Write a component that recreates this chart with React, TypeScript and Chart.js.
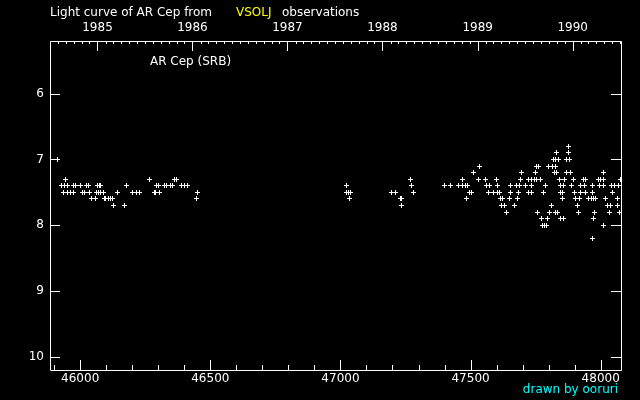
import React, { useEffect, useRef } from "react";
import { Chart, registerables } from "chart.js";

Chart.register(...registerables);

// Axis ranges (JD - 2400000, visual magnitude)
const X_MIN = 45884;
const X_MAX = 48078;
const Y_MIN = 5.2;
const Y_MAX = 10.2;
const xTickValues = [46000, 46500, 47000, 47500, 48000];
const yTickValues = [6, 7, 8, 9, 10];
const yearLabels = ["1985", "1986", "1987", "1988", "1989", "1990"];

// Observations: dates (JD - 2400000) grouped by estimated magnitude
const magLevels = [6.8, 6.9, 7.0, 7.1, 7.2, 7.3, 7.4, 7.5, 7.6, 7.7, 7.8, 7.9, 8.0, 8.2];
const jdAt68 = [47876];
const jdAt69 = [47830, 47876];
const jdAt70 = [45911, 47817, 47827, 47837, 47870, 47880];
const jdAt71 = [47534, 47755, 47761, 47801, 47815, 47825];
const jdAt72 = [47511, 47696, 47750, 47823, 47832, 47869, 47884, 48011];
const jdAt73 = [45942, 46265, 46361, 46369, 47269, 47470, 47532, 47557, 47600, 47693, 47723, 47733, 47746, 47753, 47769, 47842, 47860, 47896, 47933, 47940, 47991, 48001, 48011, 48077];
const jdAt74 = [45927, 45938, 45950, 45973, 45983, 46000, 46024, 46032, 46065, 46075, 46079, 46177, 46292, 46300, 46324, 46332, 46348, 46356, 46390, 46401, 46413, 47023, 47273, 47400, 47423, 47453, 47469, 47479, 47490, 47561, 47572, 47602, 47652, 47677, 47687, 47711, 47736, 47786, 47845, 47857, 47888, 47923, 47936, 47969, 47996, 48010, 48043, 48053, 48067];
const jdAt75 = [45934, 45953, 45964, 45974, 46007, 46016, 46034, 46063, 46069, 46079, 46088, 46142, 46200, 46216, 46227, 46284, 46288, 46303, 46450, 47023, 47030, 47038, 47198, 47210, 47280, 47496, 47503, 47569, 47588, 47605, 47611, 47652, 47686, 47723, 47733, 47779, 47846, 47853, 47900, 47924, 47942, 47970, 48046];
const jdAt76 = [46042, 46057, 46092, 46098, 46107, 46116, 46124, 46446, 47034, 47230, 47234, 47484, 47614, 47623, 47650, 47682, 47853, 47903, 47919, 47952, 47963, 47973, 47980, 48018, 48065];
const jdAt77 = [46127, 46169, 47234, 47620, 47629, 47669, 47811, 47911, 48026, 48036, 48063];
const jdAt78 = [47637, 47757, 47805, 47827, 47834, 47915, 47977, 48032, 48073];
const jdAt79 = [47773, 47796, 47847, 47856, 47973];
const jdAt80 = [47777, 47784, 47792, 48011];
const jdAt82 = [47969];
const jdLevels = [jdAt68, jdAt69, jdAt70, jdAt71, jdAt72, jdAt73, jdAt74, jdAt75, jdAt76, jdAt77, jdAt78, jdAt79, jdAt80, jdAt82];

const FONT = "DejaVu Sans";

// reduced JD of a calendar date (UTC midnight)
const reducedJD = (y: number, m: number) => Date.UTC(y, m, 1) / 86400000 + 40587.5;
const yearJD = yearLabels.map((y) => reducedJD(Number(y), 0));

function makeCrossSprite(): HTMLCanvasElement {
  const c = document.createElement("canvas");
  c.width = 5;
  c.height = 5;
  const g = c.getContext("2d")!;
  g.fillStyle = "#ffffff";
  g.fillRect(0, 2, 5, 1);
  g.fillRect(2, 0, 1, 5);
  return c;
}

const framePlugin = {
  id: "frameAndText",
  beforeDatasetsDraw(chart: any) {
    chart.ctx.save();
    chart.ctx.imageSmoothingEnabled = false;
  },
  afterDatasetsDraw(chart: any) {
    const { ctx, chartArea } = chart;
    ctx.restore();
    const xs = chart.scales.x;
    const ys = chart.scales.y;
    const l = Math.round(chartArea.left);
    const r = Math.round(chartArea.right);
    const t = Math.round(chartArea.top);
    const b = Math.round(chartArea.bottom);
    ctx.save();
    ctx.strokeStyle = "#ffffff";
    ctx.lineWidth = 1;
    ctx.beginPath();
    ctx.rect(l + 0.5, t + 0.5, r - l, b - t);
    // bottom ticks
    for (let v = 45900; v <= 48000; v += 100) {
      const px = Math.round(xs.getPixelForValue(v)) + 0.5;
      const len = v % 500 === 0 ? 10 : 5;
      ctx.moveTo(px, b);
      ctx.lineTo(px, b - len);
    }
    // top ticks (months / years)
    for (let y = 1984; y <= 1990; y++) {
      for (let m = 0; m < 12; m++) {
        const jd = reducedJD(y, m);
        if (jd <= X_MIN || jd >= X_MAX) continue;
        const px = Math.round(xs.getPixelForValue(jd)) + 0.5;
        const len = m === 0 ? 10 : 3;
        ctx.moveTo(px, t);
        ctx.lineTo(px, t + len);
      }
    }
    // left/right ticks
    yTickValues.forEach((v) => {
      const py = Math.round(ys.getPixelForValue(v)) + 0.5;
      ctx.moveTo(l, py);
      ctx.lineTo(l + 10, py);
      ctx.moveTo(r, py);
      ctx.lineTo(r - 10, py);
    });
    ctx.stroke();

    ctx.font = `12px "${FONT}"`;
    ctx.textBaseline = "alphabetic";
    ctx.textAlign = "left";
    ctx.fillStyle = "#ffffff";
    ctx.fillText("Light curve of AR Cep from", 50, 16);
    ctx.fillStyle = "#ffff00";
    ctx.fillText("VSOLJ", 236, 16);
    ctx.fillStyle = "#ffffff";
    ctx.fillText("observations", 282, 16);
    ctx.fillText("AR Cep (SRB)", 150, 65);
    ctx.fillStyle = "#00ffff";
    ctx.textAlign = "right";
    ctx.fillText("drawn by ooruri", 618, 393);
    ctx.restore();
  },
};

export default function App() {
  const ref = useRef<HTMLCanvasElement | null>(null);

  useEffect(() => {
    if (!ref.current) return;
    const points = magLevels.flatMap((m, i) => jdLevels[i].map((x) => ({ x, y: m })));
    const tickFont = { family: FONT, size: 12 };
    const sprite = makeCrossSprite();
    const chart = new Chart(ref.current, {
      type: "scatter",
      data: {
        datasets: [
          {
            data: points,
            pointStyle: sprite,
            pointRadius: 2.5,
            pointHoverRadius: 2.5,
            borderColor: "#ffffff",
            backgroundColor: "#ffffff",
            borderWidth: 1,
          },
        ],
      },
      options: {
        animation: false,
        responsive: false,
        devicePixelRatio: 1,
        events: [],
        layout: { padding: { left: 0, right: 19, top: 0, bottom: 0 } },
        plugins: { legend: { display: false }, tooltip: { enabled: false } },
        scales: {
          x: {
            type: "linear",
            position: "bottom",
            min: X_MIN,
            max: X_MAX,
            afterBuildTicks: (s: any) => {
              s.ticks = xTickValues.map((v) => ({ value: v }));
            },
            afterFit: (s: any) => {
              s.height = 30;
            },
            grid: { display: false, drawTicks: false },
            border: { display: false },
            ticks: {
              color: "#ffffff",
              font: tickFont,
              padding: 2,
              autoSkip: false,
              maxRotation: 0,
              callback: (v: any) => String(v),
            },
          },
          x2: {
            type: "linear",
            position: "top",
            min: X_MIN,
            max: X_MAX,
            afterBuildTicks: (s: any) => {
              s.ticks = yearJD.map((v) => ({ value: v }));
            },
            afterFit: (s: any) => {
              s.height = 41;
            },
            grid: { display: false, drawTicks: false },
            border: { display: false },
            ticks: {
              color: "#ffffff",
              font: tickFont,
              padding: 6,
              autoSkip: false,
              maxRotation: 0,
              callback: (_v: any, i: number) => yearLabels[i],
            },
          },
          y: {
            type: "linear",
            position: "left",
            reverse: true,
            min: Y_MIN,
            max: Y_MAX,
            afterBuildTicks: (s: any) => {
              s.ticks = yTickValues.map((v) => ({ value: v }));
            },
            afterFit: (s: any) => {
              s.width = 50;
            },
            grid: { display: false, drawTicks: false },
            border: { display: false },
            ticks: {
              color: "#ffffff",
              font: tickFont,
              padding: 6,
              autoSkip: false,
              callback: (v: any) => String(v),
            },
          },
        },
      } as any,
      plugins: [framePlugin],
    });
    return () => chart.destroy();
  }, []);

  return (
    <div style={{ position: "fixed", left: 0, top: 0, width: 640, height: 400, background: "#000" }}>
      <canvas ref={ref} width={640} height={400} style={{ display: "block" }} />
    </div>
  );
}
